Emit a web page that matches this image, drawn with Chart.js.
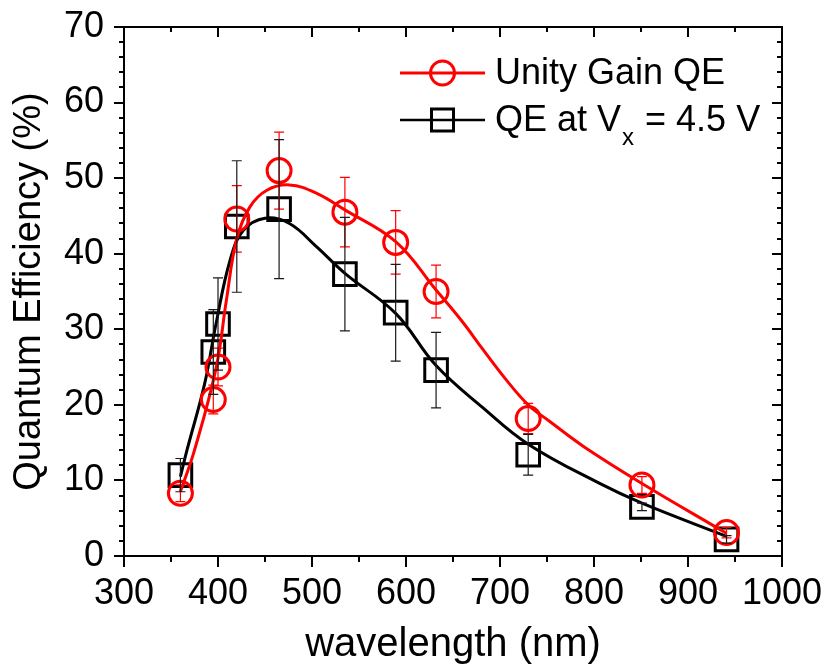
<!DOCTYPE html>
<html>
<head>
<meta charset="utf-8">
<script src="https://cdn.jsdelivr.net/npm/chart.js@4/dist/chart.umd.min.js"></script>
<style>
  html, body { margin: 0; padding: 0; background: #fff; }
  #wrap { width: 825px; height: 669px; }
</style>
</head>
<body>
<div id="wrap"><canvas id="qe"></canvas></div>
<script>
// measured points (wavelength in nm, QE in %)
const wavelength = [360, 395, 400, 420, 465, 535, 589, 632, 730, 851, 941];
const unityQE  = [8.3, 20.7, 25.0, 44.6, 51.0, 45.5, 41.5, 35.0, 18.2, 9.4, 3.1];
const unityErr = [1.1, 1.9, 2.5, 4.4, 5.1, 4.6, 4.2, 3.5, 2.0, 1.1, 0.7];
const vxQE  = [10.7, 27.0, 30.7, 43.6, 45.9, 37.3, 32.2, 24.6, 13.4, 6.5, 2.2];
const vxErr = [2.2, 5.6, 6.1, 8.7, 9.2, 7.5, 6.4, 5.0, 2.7, 0.5, 0.5];

// fitted curves
const unityFitX = [360, 375, 398, 409, 420, 434, 452, 476, 505, 535, 589, 632, 660, 682, 706, 730, 753, 790, 851, 941];
const unityFitY = [8.5, 14.0, 24.9, 33.9, 42.0, 46.2, 48.4, 49.1, 48.0, 45.8, 41.6, 35.2, 31.0, 27.3, 23.4, 20.0, 17.8, 14.4, 9.6, 3.0];
const vxFitX = [360, 367, 386, 398, 413, 427, 450, 476, 505, 535, 589, 632, 682, 730, 806, 851, 941];
const vxFitY = [10.5, 14.0, 22.9, 30.8, 39.2, 43.1, 44.7, 44.0, 40.9, 37.4, 32.1, 25.2, 19.6, 14.8, 9.6, 7.0, 2.6];

const xTicks = [300, 400, 500, 600, 700, 800, 900, 1000];
const yTicks = [0, 10, 20, 30, 40, 50, 60, 70];

const RED = '#ff0000';
const BLACK = '#000000';
const FONT = 'Arial, "Liberation Sans", sans-serif';

const pts = (xs, ys) => xs.map((x, i) => ({ x: x, y: ys[i] }));

// error bars, frame with minor ticks, legend
const decorPlugin = {
  id: 'decor',
  afterDatasetsDraw(chart) {
    const { ctx, scales: { x, y } } = chart;
    ctx.save();
    chart.data.datasets.forEach(ds => {
      if (!ds.err) return;
      ctx.strokeStyle = ds.errColor;
      ctx.lineWidth = 1.2;
      ds.data.forEach((p, i) => {
        const px = x.getPixelForValue(p.x);
        const yt = y.getPixelForValue(p.y + ds.err[i]);
        const yb = y.getPixelForValue(p.y - ds.err[i]);
        ctx.beginPath();
        ctx.moveTo(px, yt); ctx.lineTo(px, yb);
        ctx.moveTo(px - 5, yt); ctx.lineTo(px + 5, yt);
        ctx.moveTo(px - 5, yb); ctx.lineTo(px + 5, yb);
        ctx.stroke();
      });
    });
    ctx.restore();
  },
  afterDraw(chart) {
    const { ctx, chartArea: a, scales: { x, y } } = chart;
    ctx.save();
    ctx.strokeStyle = BLACK;
    ctx.lineWidth = 2;
    ctx.strokeRect(a.left, a.top, a.right - a.left, a.bottom - a.top);
    ctx.beginPath();
    for (let v = 300; v <= 1000; v += 50) {
      const px = Math.round(x.getPixelForValue(v));
      const major = v % 100 === 0;
      ctx.moveTo(px, a.bottom); ctx.lineTo(px, a.bottom + (major ? 11 : 6));
      ctx.moveTo(px, a.top); ctx.lineTo(px, a.top + (major ? 10 : 5));
    }
    for (let v = 0; v <= 70; v += 2) {
      const py = Math.round(y.getPixelForValue(v));
      const major = v % 10 === 0;
      ctx.moveTo(a.left, py); ctx.lineTo(a.left - (major ? 10 : 5), py);
      ctx.moveTo(a.right, py); ctx.lineTo(a.right - (major ? 10 : 5), py);
    }
    ctx.stroke();

    // legend
    const lx0 = 400, lx1 = 485, mx = 442.5, tx = 495;
    ctx.lineWidth = 3;
    ctx.strokeStyle = RED;
    ctx.beginPath(); ctx.moveTo(lx0, 73); ctx.lineTo(lx1, 73); ctx.stroke();
    ctx.beginPath(); ctx.arc(mx, 73, 12, 0, Math.PI * 2); ctx.stroke();
    ctx.strokeStyle = BLACK;
    ctx.lineWidth = 2.5;
    ctx.beginPath(); ctx.moveTo(lx0, 120); ctx.lineTo(lx1, 120); ctx.stroke();
    ctx.lineWidth = 3;
    ctx.strokeRect(mx - 11, 109, 22, 22);

    ctx.fillStyle = BLACK;
    ctx.textBaseline = 'middle';
    ctx.textAlign = 'left';
    ctx.font = '36px ' + FONT;
    ctx.fillText('Unity Gain QE', tx, 74);
    let cx = tx;
    ctx.fillText('QE at V', cx, 121);
    cx += ctx.measureText('QE at V').width;
    ctx.font = '24px ' + FONT;
    ctx.fillText('x', cx + 1, 138);
    cx += ctx.measureText('x').width + 2;
    ctx.font = '36px ' + FONT;
    ctx.fillText(' = 4.5 V', cx, 121);
    ctx.restore();
  }
};

new Chart(document.getElementById('qe'), {
  type: 'scatter',
  data: {
    datasets: [
      {
        label: 'Unity Gain QE', data: pts(wavelength, unityQE), showLine: false,
        err: unityErr, errColor: RED,
        pointStyle: 'circle', pointRadius: 12, pointBorderWidth: 3,
        pointBorderColor: RED, pointBackgroundColor: 'rgba(0,0,0,0)'
      },
      {
        label: 'Unity fit', data: pts(unityFitX, unityFitY), showLine: true,
        borderColor: RED, borderWidth: 3, pointRadius: 0, tension: 0.4
      },
      {
        label: 'QE at Vx = 4.5 V', data: pts(wavelength, vxQE), showLine: false,
        err: vxErr, errColor: '#1a1a1a',
        pointStyle: 'rect', pointRadius: 16, pointBorderWidth: 3,
        pointBorderColor: BLACK, pointBackgroundColor: 'rgba(0,0,0,0)'
      },
      {
        label: 'Vx fit', data: pts(vxFitX, vxFitY), showLine: true,
        borderColor: BLACK, borderWidth: 3, pointRadius: 0, tension: 0.4
      }
    ]
  },
  options: {
    responsive: true,
    maintainAspectRatio: false,
    animation: false,
    events: [],
    layout: { padding: { top: 27, right: 43, left: 0, bottom: 0 } },
    plugins: { legend: { display: false }, tooltip: { enabled: false } },
    scales: {
      x: {
        type: 'linear', min: 300, max: 1000,
        afterFit: s => { s.height = 113; s.paddingLeft = 0; s.paddingRight = 0; },
        afterBuildTicks: s => { s.ticks = xTicks.map(v => ({ value: v })); },
        grid: { display: false, drawTicks: false },
        border: { display: false },
        ticks: {
          color: BLACK, padding: 16, maxRotation: 0, minRotation: 0, autoSkip: false,
          font: { family: FONT, size: 36 }, callback: v => String(v)
        },
        title: { display: true, text: 'wavelength (nm)', color: BLACK, padding: { top: -3, bottom: 0 }, font: { family: FONT, size: 40 } }
      },
      y: {
        type: 'linear', min: 0, max: 70,
        afterFit: s => { s.width = 124; s.paddingTop = 0; s.paddingBottom = 0; },
        afterBuildTicks: s => { s.ticks = yTicks.map(v => ({ value: v })); },
        grid: { display: false, drawTicks: false },
        border: { display: false },
        ticks: { color: BLACK, padding: 20, autoSkip: false, font: { family: FONT, size: 36 }, callback: v => String(v) },
        title: { display: true, text: 'Quantum Efficiency (%)', color: BLACK, padding: { top: 7, bottom: 0 }, font: { family: FONT, size: 38 } }
      }
    }
  },
  plugins: [decorPlugin]
});
</script>
</body>
</html>
